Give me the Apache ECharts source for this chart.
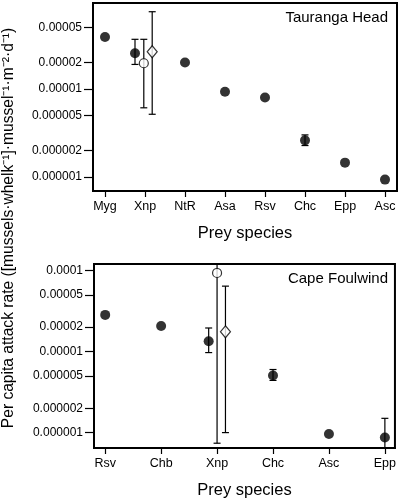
<!DOCTYPE html>
<html>
<head>
<meta charset="utf-8">
<script src="https://cdn.jsdelivr.net/npm/echarts@6/dist/echarts.min.js"></script>
<style>
  html, body { margin: 0; padding: 0; background: #fff; }
  #chart { width: 399px; height: 500px; }
</style>
</head>
<body>
<div id="chart"></div>
<script>
// Tauranga Head
const topCats = ["Myg", "Xnp", "NtR", "Asa", "Rsv", "Chc", "Epp", "Asc"];
const topMean = [3.9e-5, 2.55e-5, 2.0e-5, 9.3e-6, 8.0e-6, 2.6e-6, 1.45e-6, 9.3e-7];
const topLow = [null, 1.9e-5, null, null, null, 2.27e-6, null, null];
const topHigh = [null, 3.67e-5, null, null, null, 3.0e-6, null, null];
const topOpen = [1.96e-5, 6.1e-6, 3.67e-5];    // mean, low, high (Xnp)
const topDiamond = [2.65e-5, 5.15e-6, 7.56e-5];

// Cape Foulwind
const botCats = ["Rsv", "Chb", "Xnp", "Chc", "Asc", "Epp"];
const botMean = [2.83e-5, 2.06e-5, 1.34e-5, 5.07e-6, 9.6e-7, 8.7e-7];
const botLow = [null, null, 9.7e-6, 4.4e-6, null, 6.0e-7];
const botHigh = [null, null, 1.95e-5, 6.0e-6, null, 1.5e-6];
const botOpen = [9.3e-5, 7.4e-7, 1.3e-4];
const botDiamond = [1.75e-5, 1.0e-6, 6.4e-5];

const yTicksTop = [1e-6, 2e-6, 5e-6, 1e-5, 2e-5, 5e-5];
const yTicksBot = [1e-6, 2e-6, 5e-6, 1e-5, 2e-5, 5e-5, 1e-4];

const font = "Liberation Sans, Arial, Helvetica, sans-serif";

let dom = document.getElementById("chart");
let myChart = echarts.init(dom, null, { renderer: "canvas" });

function fmt(v) {
  let s = Number(v).toFixed(7);
  return s.replace(/0+$/, "").replace(/\.$/, "");
}

function dots(mean, xnpIdx, shift) {
  return mean.map((v, i) => [i === xnpIdx ? i + shift : i, v]);
}

function bars(low, high, xnpIdx, shift) {
  let out = [];
  low.forEach((l, i) => {
    if (l != null) out.push([i === xnpIdx ? i + shift : i, l, high[i]]);
  });
  return out;
}

function errorItem(params, api) {
  let x = api.value(0);
  let lo = api.coord([x, api.value(1)]);
  let hi = api.coord([x, api.value(2)]);
  let cap = 3.5;
  let st = { stroke: "#000", lineWidth: 1.2 };
  return {
    type: "group",
    children: [
      { type: "line", shape: { x1: lo[0], y1: lo[1], x2: hi[0], y2: hi[1] }, style: st },
      { type: "line", shape: { x1: lo[0] - cap, y1: lo[1], x2: lo[0] + cap, y2: lo[1] }, style: st },
      { type: "line", shape: { x1: hi[0] - cap, y1: hi[1], x2: hi[0] + cap, y2: hi[1] }, style: st },
    ],
  };
}

function xAxis(idx, cats, min, max, gap) {
  return {
    type: "value",
    gridIndex: idx,
    min: min,
    max: max,
    splitLine: { show: false },
    axisLine: { show: true, onZero: false, lineStyle: { color: "#000", width: 2 } },
    axisTick: { show: true, length: 6, lineStyle: { color: "#000", width: 1.2 }, customValues: cats.map((c, i) => i) },
    axisLabel: {
      customValues: cats.map((c, i) => i),
      formatter: (v) => cats[Math.round(v)],
      color: "#000", fontSize: 12.5, fontFamily: font, margin: 9,
    },
    name: "Prey species",
    nameLocation: "middle",
    nameGap: gap,
    nameTextStyle: { color: "#000", fontSize: 16.5, fontFamily: font },
  };
}

function yAxis(idx, ticks, min, max) {
  return {
    type: "log",
    logBase: 10,
    gridIndex: idx,
    min: min,
    max: max,
    splitLine: { show: false },
    axisLine: { show: true, onZero: false, lineStyle: { color: "#000", width: 2 } },
    axisTick: { show: true, inside: false, length: 9, lineStyle: { color: "#000", width: 1.2 }, customValues: ticks },
    axisLabel: {
      customValues: ticks,
      formatter: fmt,
      color: "#000", fontSize: 12, fontFamily: font, margin: 11,
    },
  };
}

function panelSeries(idx, mean, low, high, open, diamond, xnpIdx, dx) {
  return [
    {
      type: "custom", xAxisIndex: idx, yAxisIndex: idx, clip: true, z: 1,
      renderItem: errorItem,
      data: bars(low, high, xnpIdx, dx[0]),
    },
    {
      type: "custom", xAxisIndex: idx, yAxisIndex: idx, clip: true, z: 1,
      renderItem: errorItem,
      data: [[xnpIdx + dx[1], open[1], open[2]], [xnpIdx + dx[2], diamond[1], diamond[2]]],
    },
    {
      type: "scatter", xAxisIndex: idx, yAxisIndex: idx, z: 3,
      symbol: "circle", symbolSize: 10,
      itemStyle: { color: "#000" },
      data: dots(mean, xnpIdx, dx[0]),
    },
    {
      type: "scatter", xAxisIndex: idx, yAxisIndex: idx, z: 3,
      symbol: "circle", symbolSize: 9,
      itemStyle: { color: "#fff", borderColor: "#000", borderWidth: 1.2 },
      data: [[xnpIdx + dx[1], open[0]]],
    },
    {
      type: "scatter", xAxisIndex: idx, yAxisIndex: idx, z: 3,
      symbol: "diamond", symbolSize: [10, 12],
      itemStyle: { color: "#fff", borderColor: "#000", borderWidth: 1.2 },
      data: [[xnpIdx + dx[2], diamond[0]]],
    },
  ];
}

let option = {
  animation: false,
  backgroundColor: "#fff",
  grid: [
    { left: 93, top: 3, width: 304, height: 188, show: true, borderColor: "#000", borderWidth: 2, backgroundColor: "transparent" },
    { left: 94, top: 264, width: 303, height: 188, show: true, borderColor: "#000", borderWidth: 2, backgroundColor: "transparent" },
  ],
  xAxis: [
    xAxis(0, topCats, -0.3, 7.3, 34),
    xAxis(1, botCats, -0.2, 5.18, 34),
  ],
  yAxis: [
    yAxis(0, yTicksTop, 6.9e-7, 9.5e-5),
    yAxis(1, yTicksBot, 6.46e-7, 1.2e-4),
  ],
  graphic: [
    { type: "text", right: 11, top: 10, style: { text: "Tauranga Head", fill: "#000", fontSize: 15, fontFamily: font } },
    { type: "text", right: 11, top: 271, style: { text: "Cape Foulwind", fill: "#000", fontSize: 15, fontFamily: font } },
    {
      type: "text", x: 9, y: 228, rotation: Math.PI / 2,
      style: {
        text: "Per capita attack rate ([mussels·whelk⁻¹]·mussel⁻¹·m⁻²·d⁻¹)",
        fill: "#000", fontSize: 15.6, fontFamily: font, align: "center", verticalAlign: "middle",
      },
    },
  ],
  series: [].concat(
    panelSeries(0, topMean, topLow, topHigh, topOpen, topDiamond, 1, [-0.25, -0.03, 0.18]),
    panelSeries(1, botMean, botLow, botHigh, botOpen, botDiamond, 2, [-0.15, 0, 0.15])
  ),
};

if (option && typeof option === "object") {
  myChart.setOption(option);
}

window.addEventListener("resize", myChart.resize);
</script>
</body>
</html>
